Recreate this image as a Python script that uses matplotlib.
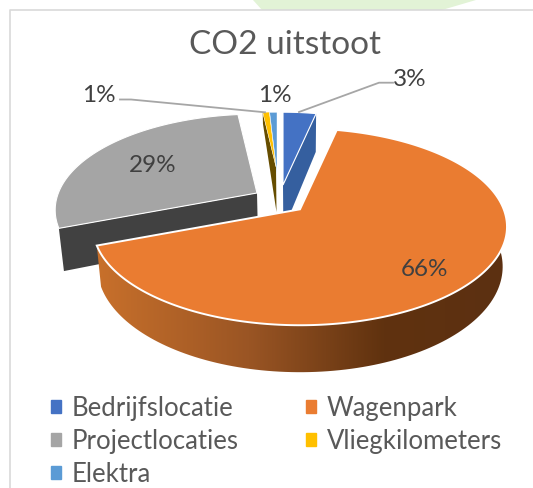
import matplotlib
matplotlib.use('Agg')
import matplotlib.pyplot as plt
import numpy as np
from matplotlib.colors import LinearSegmentedColormap
from matplotlib.patches import Patch

plt.rcParams['font.family'] = ['Lato', 'DejaVu Sans']

categories = ['Bedrijfslocatie', 'Wagenpark', 'Projectlocaties', 'Vliegkilometers', 'Elektra']
shares = [3.4, 65.8, 29.0, 0.9, 0.9]
share_labels = ['3%', '66%', '29%', '1%', '1%']

top_colors = ['#4472C4', '#EA7C31', '#A5A5A5', '#FFC000', '#5B9BD5']
side_colors = ['#355F9F', '#EA7C31', '#414141', '#664D00', '#5B9BD5']
# origin x, origin y, scale, depth of each exploded slice
slice_geom = [(283, 185, 0.90, 45), (300, 209.3, 1.0, 38.6), (257, 193, 0.975, 40),
              (276, 167, 0.68, 45), (277, 173, 0.75, 45)]

A, B, K = 203.7, 95.3, 0.178
XC, SHRINK = 300, 0.979
TEXT = '#595959'
LABEL = '#404040'
LEADER = '#A6A6A6'


def project(pct, geom):
    x0, y0, s, _ = geom
    t = 2 * np.pi * np.asarray(pct, dtype=float) / 100
    u, v = np.sin(t), -np.cos(t)
    w = 1 - K * v
    return x0 + s * A * u / w, y0 + s * B * v / w, w


def lower(x, y, w, geom):
    return XC + (x - XC) * SHRINK, y + geom[3] / w


def radial_face(pct, geom, outer=1.0):
    x, y, w = project(pct, geom)
    xb, yb = lower(x, y, w, geom)
    xb, yb = x + (xb - x) * outer, y + (yb - y) * outer
    vx, vy = geom[0], geom[1]
    vxb, vyb = lower(vx, vy, 1.0, geom)
    return [x, vx, vxb, xb], [y, vy, vyb, yb]


fig = plt.figure(figsize=(5.33, 4.88), dpi=100)
ax = fig.add_axes([0, 0, 1, 1])
ax.axis('off')

# bit of the page behind the chart, and the chart frame
ax.fill([253, 262, 442, 476], [0, 10, 10, 0], color='#E2F3D6', lw=0)
ax.plot([10, 10, 533], [488, 10, 10], color='#D9D9D9', lw=1.2)

starts = np.cumsum([0] + shares[:-1])
ends = np.cumsum(shares)

# radial faces of the back slices
blue, orange, gray, yellow, light = range(5)
for i, edge, outer in [(blue, ends[blue], 1.0), (gray, starts[gray], 1.0), (yellow, starts[yellow], 0.3)]:
    fx, fy = radial_face(edge, slice_geom[i], outer)
    ax.fill(fx, fy, color=side_colors[i], lw=0)

# rim of the big slice
geom = slice_geom[orange]
rim = np.linspace(22, ends[orange], 120)
rx, ry, rw = project(rim, geom)
bx, by = lower(rx, ry, rw, geom)
poly = ax.fill(np.r_[rx, bx[::-1]], np.r_[ry, by[::-1]], color='none', lw=0)[0]
rim_cmap = LinearSegmentedColormap.from_list(
    'rim', [(0, '#C8702B'), (0.37, '#9A5524'), (0.7, '#60320F'), (1, '#5C3012')])
img = ax.imshow(np.linspace(0, 1, 256)[None, :], cmap=rim_cmap, aspect='auto',
                extent=(97, 507, 380, 130), zorder=2)
img.set_clip_path(poly)

# top faces
edge_widths = [0.8, 1.4, 0.8, 0.3, 0.3]
for i in [gray, yellow, light, blue, orange]:
    pct = np.linspace(starts[i], ends[i], max(int(shares[i] * 4), 4))
    x, y, _ = project(pct, slice_geom[i])
    ax.fill(np.r_[slice_geom[i][0], x], np.r_[slice_geom[i][1], y], facecolor=top_colors[i],
            edgecolor='white', lw=edge_widths[i], joinstyle='miter',
            zorder=3 if i != orange else 4)

# leader lines
ax.plot([299, 379, 393], [112, 82.7, 82.7], color=LEADER, lw=1.3, zorder=5)
ax.plot([120, 131, 265], [99.5, 99.5, 112.3], color=LEADER, lw=1.3, zorder=5)

ax.text(285, 45, 'CO2 uitstoot', ha='center', va='center', fontsize=24, color=TEXT)
label_pos = [(410, 79), (424, 270), (153, 165), (99, 95), (275, 95)]
for text, (lx, ly) in zip(share_labels, label_pos):
    ax.text(lx, ly, text, ha='center', va='center', fontsize=17.5, color=LABEL, zorder=6)

# legend is filled column by column
order = [blue, gray, light, orange, yellow]
handles = [Patch(color=top_colors[i], label=categories[i]) for i in order]
ax.legend(handles=handles, ncols=2, loc='lower left', bbox_to_anchor=(0.0957, 0.002),
          frameon=False, fontsize=18.5, labelcolor=TEXT, handlelength=0.39, handleheight=0.39,
          handletextpad=0.43, columnspacing=2.6, labelspacing=0.32, borderpad=0, borderaxespad=0)

ax.set_xlim(0, 533)
ax.set_ylim(488, 0)
fig.savefig('out.png', dpi=100)
